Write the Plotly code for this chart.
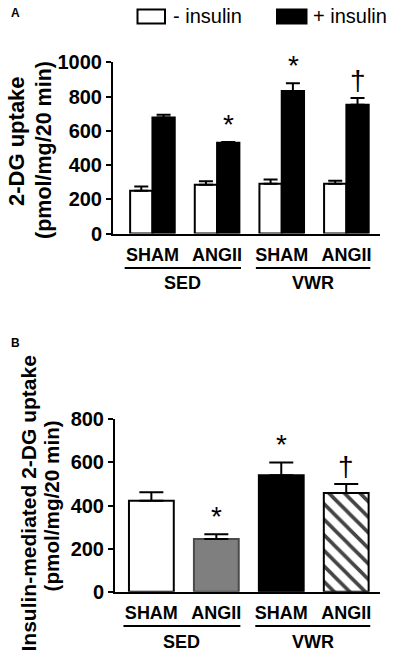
import plotly.graph_objects as go

W, H = 396, 659

categories = ["SHAM", "ANGII", "SHAM", "ANGII"]
groups = ["SED", "VWR"]
a_minus = [250, 285, 290, 290]
a_minus_err = [25, 20, 25, 18]
a_plus = [678, 530, 832, 752]
a_plus_err = [15, 5, 45, 40]
b_vals = [422, 245, 540, 458]
b_err = [40, 22, 60, 42]
a_ticks = [0, 200, 400, 600, 800, 1000]
b_ticks = [0, 200, 400, 600, 800]

xpos = list(range(len(categories)))
FONT = "Liberation Sans"


def px_x(p):
    return p / W


def px_y(p):
    return 1 - p / H


fig = go.Figure()

err_style = dict(type="data", symmetric=False, thickness=2, color="black")

fig.add_trace(go.Bar(
    x=xpos, y=a_minus, name="- insulin", xaxis="x", yaxis="y",
    marker=dict(color="white", line=dict(color="black", width=2)),
    error_y=dict(array=a_minus_err, arrayminus=[0] * 4, width=7, **err_style),
))
fig.add_trace(go.Bar(
    x=xpos, y=a_plus, name="+ insulin", xaxis="x", yaxis="y",
    marker=dict(color="black", line=dict(color="black", width=2)),
    error_y=dict(array=a_plus_err, arrayminus=[0] * 4, width=7, **err_style),
))
fig.add_trace(go.Bar(
    x=xpos, y=b_vals, xaxis="x2", yaxis="y2", offsetgroup="b",
    marker=dict(
        color=["white", "#7f7f7f", "black", "white"],
        line=dict(color=["black", "#4a4a4a", "black", "black"], width=2),
        pattern=dict(shape=["", "", "", "\\"], fgcolor="black", bgcolor="white",
                     fgopacity=1, size=11, solidity=0.33, fillmode="overlay"),
    ),
    error_y=dict(array=b_err, arrayminus=[0] * 4, width=12, **err_style),
))

axis_common = dict(
    showline=True, linecolor="black", linewidth=2, showgrid=False, zeroline=False,
    automargin=False, ticklabelstandoff=4,
    tickfont=dict(family=FONT, size=18, color="black", weight="bold"),
)
yaxis_common = dict(
    showline=True, linecolor="black", linewidth=2, showgrid=False, zeroline=False,
    automargin=False,
    ticks="outside", ticklen=5, tickwidth=2, tickcolor="black",
    tickfont=dict(family=FONT, size=20, color="black", weight="bold"),
)

fig.update_layout(
    width=W, height=H, margin=dict(l=0, r=0, t=0, b=0, pad=0, autoexpand=False),
    paper_bgcolor="white", plot_bgcolor="white", showlegend=False,
    barmode="group", bargap=0.31, bargroupgap=0,
    xaxis=dict(domain=[px_x(113), px_x(380)], range=[-0.61, 3.52], anchor="y",
               tickvals=xpos, ticktext=categories, ticks="", **axis_common),
    yaxis=dict(domain=[px_y(233.5), px_y(62.3)], range=[0, 1000], anchor="x",
               tickvals=a_ticks, **yaxis_common),
    xaxis2=dict(domain=[px_x(115), px_x(380)], range=[-0.56, 3.52], anchor="y2",
                tickvals=xpos, ticktext=categories, ticks="", **axis_common),
    yaxis2=dict(domain=[px_y(591.7), px_y(419.3)], range=[0, 800], anchor="x2",
                tickvals=b_ticks, **yaxis_common),
)

shapes = []
annotations = []

# group underline and labels
for xref, ypix_line, ypix_text in [("x", 268, 283), ("x2", 626, 642)]:
    for g, (x0, x1) in zip(groups, [(-0.43, 1.37), (1.6, 3.37)]):
        shapes.append(dict(type="line", xref=xref, yref="paper", x0=x0, x1=x1,
                           y0=px_y(ypix_line), y1=px_y(ypix_line),
                           line=dict(color="black", width=2)))
        annotations.append(dict(text=g, xref=xref, yref="paper", x=(x0 + x1) / 2,
                                y=px_y(ypix_text), xanchor="center", yanchor="middle",
                                showarrow=False,
                                font=dict(family=FONT, size=18, color="black", weight="bold")))

# legend (panel A)
shapes.append(dict(type="rect", xref="paper", yref="paper",
                   x0=px_x(137.5), x1=px_x(165), y0=px_y(23.5), y1=px_y(9.5),
                   line=dict(color="black", width=2), fillcolor="white"))
shapes.append(dict(type="rect", xref="paper", yref="paper",
                   x0=px_x(277), x1=px_x(306.5), y0=px_y(23.5), y1=px_y(9.5),
                   line=dict(color="black", width=2), fillcolor="black"))
annotations.append(dict(text="- insulin", xref="paper", yref="paper", x=px_x(171),
                        y=px_y(16.5), xanchor="left", yanchor="middle", showarrow=False,
                        font=dict(family=FONT, size=20, color="black")))
annotations.append(dict(text="+ insulin", xref="paper", yref="paper", x=px_x(311),
                        y=px_y(16.5), xanchor="left", yanchor="middle", showarrow=False,
                        font=dict(family=FONT, size=20, color="black")))

# panel letters
for letter, ypix in [("A", 13), ("B", 343)]:
    annotations.append(dict(text=letter, xref="paper", yref="paper", x=px_x(9),
                            y=px_y(ypix), xanchor="left", yanchor="middle", showarrow=False,
                            font=dict(family=FONT, size=12, color="black", weight="bold")))

# y-axis titles (one annotation per line)
title_lines = [
    ("2-DG uptake", 16.5, 141.5, 22),
    ("(pmol/mg/20 min)", 44, 150, 21.5),
    ("Insulin-mediated 2-DG uptake", 28, 503.5, 21),
    ("(pmol/mg/20 min)", 51, 506.5, 20.7),
]
for txt, xc, yc, fs in title_lines:
    annotations.append(dict(text=txt, xref="paper", yref="paper",
                            x=px_x(xc), y=px_y(yc), xanchor="center", yanchor="middle",
                            textangle=-90, showarrow=False,
                            font=dict(family=FONT, size=fs, color="black", weight="bold")))

# significance marks
off = 0.175
sig_a = [(1, "*"), (2, "*"), (3, "†")]
for i, sym in sig_a:
    annotations.append(dict(text=sym, xref="x", yref="y", x=i + off, y=a_plus[i] + a_plus_err[i],
                            xanchor="center", yanchor="bottom", showarrow=False,
                            font=dict(family=FONT, size=28, color="black")))
sig_b = [(1, "*"), (2, "*"), (3, "†")]
for i, sym in sig_b:
    annotations.append(dict(text=sym, xref="x2", yref="y2", x=i, y=b_vals[i] + b_err[i],
                            xanchor="center", yanchor="bottom", showarrow=False,
                            font=dict(family=FONT, size=28, color="black")))

fig.update_layout(shapes=shapes, annotations=annotations)
fig.write_html("out.html", config={"displayModeBar": False},
               post_script="document.body.style.margin='0';")
